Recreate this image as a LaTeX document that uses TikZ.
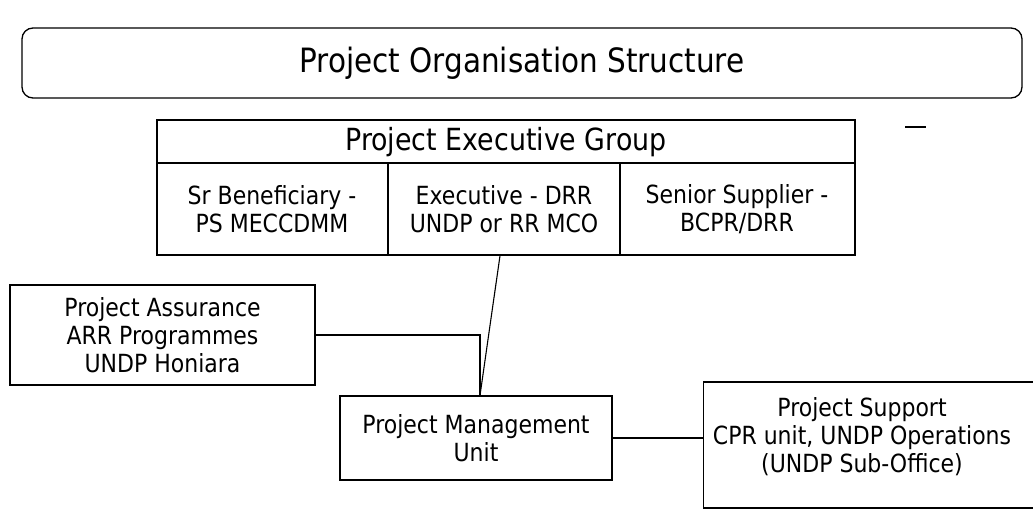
\documentclass[tikz,border=0pt]{standalone}
\usepackage{fontspec}
\setmainfont{DejaVu Sans}[FakeStretch=0.88]
\begin{document}
\begin{tikzpicture}[x=1pt,y=-1pt,
  box/.style={draw=black,line width=1.3pt,fill=white,rectangle,inner sep=0pt,align=center},
  txt/.style={align=center,inner sep=0pt,font=\fontsize{25}{28}\selectfont},
  link/.style={draw=black,line width=1.1pt}]
\useasboundingbox (0,0) rectangle (1033,513);
% title
\node[box,rounded corners=11pt,minimum width=1000pt,minimum height=70pt,
      font=\fontsize{33.5}{38}\selectfont] (title) at (522,63) {Project Organisation Structure};
% executive group
\node[box,minimum width=698pt,minimum height=135pt] (exec) at (506,187.5) {};
\coordinate (hl) at (157,163);
\coordinate (hr) at (855,163);
\draw[link] (hl) -- (hr);
\coordinate (d1t) at (388,163);
\coordinate (d2t) at (620,163);
\draw[link] (d1t) -- (d1t |- exec.south);
\draw[link] (d2t) -- (d2t |- exec.south);
\node[txt,font=\fontsize{30.5}{34}\selectfont] (head) at (506,142) {Project Executive Group};
\node[txt] (c1) at (272,209) {Sr Beneficiary -\\PS MECCDMM};
\node[txt] (c2) at (504,209) {Executive - DRR\\UNDP or RR MCO};
\node[txt] (c3) at (737,209) {Senior Supplier -\\BCPR/DRR};
% stray mark
\coordinate (m1) at (905,127);
\coordinate (m2) at (926,127);
\draw[line width=1.2pt] (m1) -- (m2);
% lower boxes
\node[box,minimum width=305pt,minimum height=100pt] (assur) at (162.5,335) {};
\node[txt] at (assur.center) {Project Assurance\\ARR Programmes\\UNDP Honiara};
\node[box,minimum width=272pt,minimum height=84pt] (pmu) at (476,438) {};
\node[txt] at (pmu.center) {Project Management\\Unit};
\node[box,minimum width=334pt,minimum height=126pt,anchor=west] (supp) at (703,445) {};
\node[txt] at (862,437) {Project Support\\CPR unit, UNDP Operations\\(UNDP Sub-Office)};
% connectors
\draw[link] ([xshift=-6pt]exec.south) -- ([xshift=4pt]pmu.north);
\draw[link] (assur.east) -| ([xshift=4pt]pmu.north);
\draw[link] (pmu.east) -- (pmu.east -| supp.west);
\end{tikzpicture}
\end{document}
